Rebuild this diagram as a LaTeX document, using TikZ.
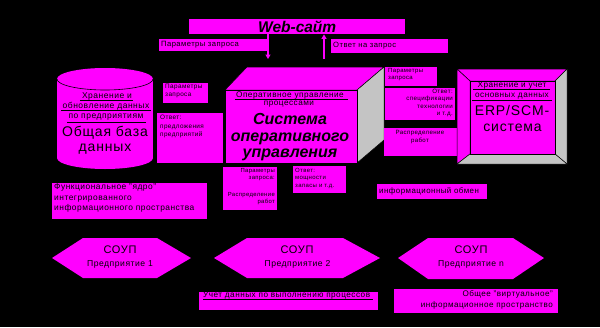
\documentclass[tikz,border=0pt]{standalone}
\usepackage{fontspec}
\setmainfont{Liberation Sans}[LetterSpace=6]
\newfontfamily\boldf{Liberation Sans}
\usetikzlibrary{arrows.meta}
\definecolor{mag}{RGB}{255,0,255}
\definecolor{shd}{RGB}{196,196,196}
\newcommand{\fsz}[2]{\fontsize{#1}{#2}\selectfont}
\tikzset{
  box/.style 2 args={fill=mag, draw=none, inner sep=0pt, anchor=north west, minimum width=#1, minimum height=#2},
  lbl/.style={inner sep=0pt, text=black, align=left},
  rlbl/.style={inner sep=0pt, text=black, align=right},
  clbl/.style={inner sep=0pt, text=black, align=center},
  uline/.style={draw=black, line width=0.9pt},
  arr/.style={draw=mag, line width=1.6pt, -{Triangle[length=4.5pt,width=5pt]}},
  shadeface/.style={fill=shd, draw=black, line width=0.5pt},
  magface/.style={fill=mag, draw=black, line width=0.5pt},
  hexa/.style={fill=mag, draw=none},
  bigit/.style={font=\boldf\bfseries\itshape\fsz{16}{16.5}},
}
\begin{document}
\begin{tikzpicture}[x=1pt,y=-1pt]
\fill[black] (0,0) rectangle (600,327);
\useasboundingbox (0,0) rectangle (600,327);

% Web site and request arrows
\node[box={216}{15}, font=\boldf\bfseries\itshape\fsz{15.5}{15.5}] (web) at (189,19) {Web-сайт};
\node[box={108}{12}] (p1) at (159,39) {};
\node[lbl, font=\fsz{7.6}{9}, anchor=west] (p1t) at (161,45) {Параметры запроса};
\node[box={117}{14}] (o1) at (331,39) {};
\node[lbl, font=\fsz{7.6}{9}, anchor=west] (o1t) at (333,45.5) {Ответ на запрос};
\coordinate (a1) at (268,59);
\coordinate (a2) at (324,59);
\draw[arr] (web.south -| a1) -- (a1);
\draw[arr] (a2) -- (a2 |- web.south);

% Cylinder: common database
\fill[mag] (57,79) rectangle (153,158);
\fill[mag] (105,158) ellipse [x radius=48, y radius=11];
\fill[mag] (105,79) ellipse [x radius=48, y radius=11];
\draw[black, line width=0.6pt] (57,79) arc[start angle=180, end angle=0, x radius=48, y radius=11];
\node[clbl, font=\fsz{8.5}{10}] (cy1) at (107,96.5) {Хранение и};
\node[clbl, font=\fsz{8.5}{10}] (cy2) at (106,106.5) {обновление данных};
\node[clbl, font=\fsz{8.5}{10}] (cy3) at (106,117.5) {по предприятиям};
\draw[uline] (80,100.5) -- (133,100.5);
\draw[uline] (61,110) -- (151,110);
\draw[uline] (67,122) -- (146,122);
\node[clbl, font=\fsz{14}{16}] (cy4) at (105,133) {Общая база};
\node[clbl, font=\fsz{14}{16}] (cy5) at (105,149) {данных};

\node[box={45}{20}] (p2) at (163,83) {};
\node[lbl, font=\fsz{6.4}{8}, anchor=north west] (p2t) at (165,84) {Параметры\\запроса};
\node[box={66}{50}] (o2) at (157,113) {};
\node[lbl, font=\fsz{6.4}{8.5}, anchor=north west] (o2t) at (160,115) {Ответ:\\предложения\\предприятий};

% Cube: operative management system
\path[magface] (225,90) -- (247,67) -- (384,67) -- (357,90) -- cycle;
\path[shadeface] (357,90) -- (384,67) -- (384,140) -- (357,163) -- cycle;
\node[box={132}{73}, draw=black, line width=0.5pt] (cube) at (225,90) {};
\node[clbl, font=\fsz{8.2}{9}] (cu1) at (290,95) {Оперативное управление};
\draw[uline] (235,99.5) -- (348,99.5);
\node[clbl, font=\fsz{8.2}{9}] (cu2) at (289,104.5) {процессами};
\node[clbl, bigit, anchor=north] (cu3) at (290,113.5) {Система\\оперативного\\управления};

\node[box={54}{43}] (p3) at (223,167) {};
\node[rlbl, font=\fsz{5.9}{7.5}, anchor=north east] (p3t) at (275,168) {Параметры\\запроса:\\[9pt]Распределение\\работ};
\node[box={53}{27}] (o3) at (293,166) {};
\node[lbl, font=\fsz{6}{7.5}, anchor=north west] (o3t) at (295,168) {Ответ:\\мощности\\запасы и т.д.};

\node[box={155}{36}] (yd) at (52,183) {};
\node[lbl, font=\fsz{8.4}{10.5}, anchor=north west] (ydt) at (54,183.5) {Функциональное "ядро"\\интегрированного\\информационного пространства};

\node[box={110}{15}] (ob) at (377,184) {};
\node[lbl, font=\fsz{7.9}{10}, anchor=west] (obt) at (379,191.5) {информационный обмен};

% right-hand request boxes
\node[box={52}{19}] (p4) at (385,67) {};
\node[lbl, font=\fsz{6}{7.5}, anchor=north west] (p4t) at (388,68) {Параметры\\запроса};
\node[box={70}{32}] (o4) at (385,88) {};
\node[rlbl, font=\fsz{6.2}{7.3}, anchor=north east] (o4t) at (453,89) {Ответ:\\спецификации\\технологии\\и т.д.};
\node[box={73}{28}] (rp) at (384,128) {};
\node[clbl, font=\fsz{6.1}{8}, anchor=north] (rpt) at (420,130) {Распределение\\работ};

% ERP frame
\path[magface] (457,69) -- (567,69) -- (555,81) -- (470,81) -- cycle;
\path[magface] (457,69) -- (470,81) -- (470,154) -- (457,164) -- cycle;
\path[shadeface] (567,69) -- (567,164) -- (555,154) -- (555,81) -- cycle;
\path[shadeface] (457,164) -- (567,164) -- (555,154) -- (470,154) -- cycle;
\node[box={85}{73}, draw=black, line width=0.6pt] (erp) at (470,81) {};
\node[clbl, font=\fsz{8.2}{9}] (er1) at (512,85.5) {Хранение и учет};
\draw[uline] (473,89.5) -- (550,89.5);
\node[clbl, font=\fsz{8.2}{9}] (er2) at (512,96) {основных данных};
\draw[uline] (472,100.5) -- (552,100.5);
\node[clbl, font=\fsz{14}{15}] (er3) at (512,110) {ERP/SCM-};
\node[clbl, font=\fsz{14}{15}] (er4) at (512.5,128) {система};

% Hexagons
\path[hexa] (52,258) -- (83,238) -- (157,238) -- (191,258) -- (157,278) -- (83,278) -- cycle;
\node[clbl, font=\fsz{11}{12}] (h1a) at (120,250) {СОУП};
\node[clbl, font=\fsz{8.6}{9}] (h1b) at (120,264) {Предприятие 1};
\path[hexa] (214,258) -- (247,238) -- (343,238) -- (380,258) -- (343,278) -- (247,278) -- cycle;
\node[clbl, font=\fsz{11}{12}] (h2a) at (297,250) {СОУП};
\node[clbl, font=\fsz{8.6}{9}] (h2b) at (297.5,264) {Предприятие 2};
\path[hexa] (398,258) -- (428,238) -- (513,238) -- (544,258) -- (513,279) -- (428,279) -- cycle;
\node[clbl, font=\fsz{11}{12}] (h3a) at (471,250) {СОУП};
\node[clbl, font=\fsz{8.6}{9}] (h3b) at (471,264) {Предприятие n};

% bottom notes
\node[box={179}{18}] (uc) at (199,292) {};
\node[lbl, font=\fsz{8.2}{10}, anchor=west] (uct) at (203,295.5) {Учет данных по выполнению процессов};
\draw[uline] (203,299.5) -- (373,299.5);
\node[box={164}{24}] (os) at (394,289) {};
\node[rlbl, font=\fsz{8.1}{11}, anchor=north east] (ost) at (553,290) {Общее "виртуальное"\\информационное пространство};
\end{tikzpicture}
\end{document}
